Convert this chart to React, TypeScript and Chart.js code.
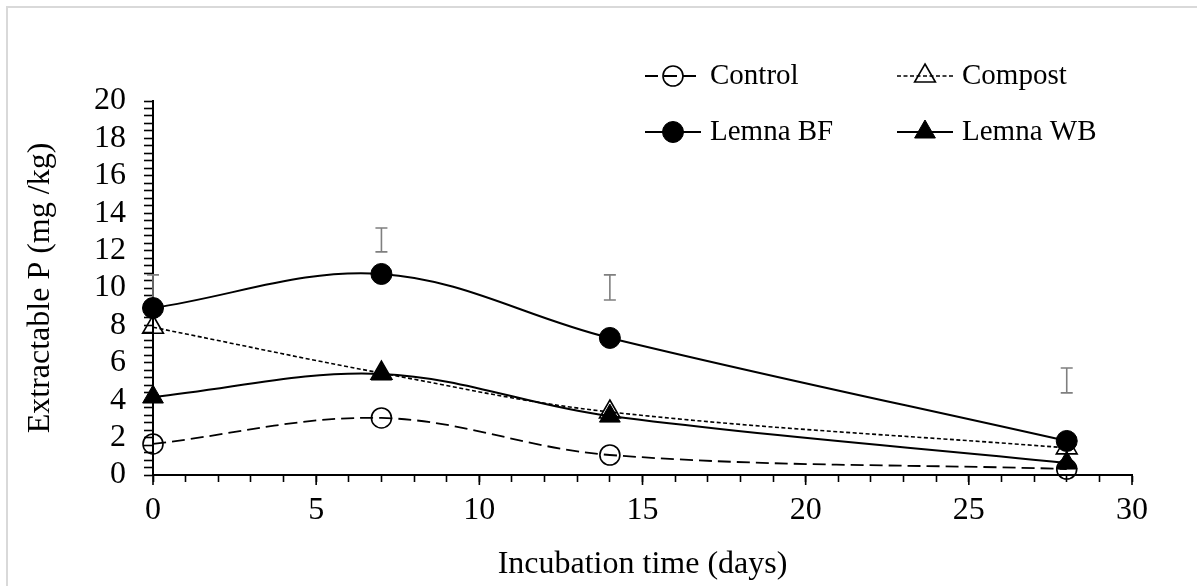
import { useEffect, useRef } from "react";
import { Chart, registerables } from "chart.js";

Chart.register(...registerables);

// Sampling days and extractable P (mg/kg) per treatment
const days = [0, 7, 14, 28];
const control = [1.66, 3.05, 1.07, 0.32];
const compost = [7.9, 5.45, 3.37, 1.45];
const lemnaBF = [8.93, 10.75, 7.33, 1.82];
const lemnaWB = [4.17, 5.4, 3.15, 0.64];

// Error bar extents (mg/kg) drawn at each sampling day
const errLow = [9.4, 11.93, 9.36, 4.39];
const errHigh = [10.7, 13.21, 10.7, 5.72];

const seriesNames = ["Control", "Compost", "Lemna BF", "Lemna WB"];
const yTickLabels = ["0", "2", "4", "6", "8", "10", "12", "14", "16", "18", "20"];
const xTickLabels = ["0", "5", "10", "15", "20", "25", "30"];

const FONT = "'Liberation Serif', 'Times New Roman', serif";
const TICK_SIZE = 32;
const KEY_SIZE = 29;

const pts = (ys: number[]) => days.map((d, i) => ({ x: d, y: ys[i] }));

function drawMarker(
  ctx: CanvasRenderingContext2D,
  style: string,
  x: number,
  y: number,
  r: number,
  fill: string,
  stroke: string,
  width: number
) {
  ctx.beginPath();
  if (style === "triangle") {
    let a = 0;
    ctx.moveTo(x + Math.sin(a) * r, y - Math.cos(a) * r);
    a += (2 * Math.PI) / 3;
    ctx.lineTo(x + Math.sin(a) * r, y - Math.cos(a) * r);
    a += (2 * Math.PI) / 3;
    ctx.lineTo(x + Math.sin(a) * r, y - Math.cos(a) * r);
    ctx.closePath();
  } else {
    ctx.arc(x, y, r, 0, Math.PI * 2);
  }
  ctx.fillStyle = fill;
  ctx.fill();
  ctx.lineWidth = width;
  ctx.strokeStyle = stroke;
  ctx.stroke();
}

// Light frame around the chart
const framePlugin = {
  id: "frame",
  beforeDraw(chart: any) {
    const { ctx, width, height } = chart;
    ctx.save();
    ctx.fillStyle = "#ffffff";
    ctx.fillRect(0, 0, width, height);
    ctx.strokeStyle = "#d9d9d9";
    ctx.lineWidth = 2;
    ctx.beginPath();
    ctx.moveTo(7, height);
    ctx.lineTo(7, 7);
    ctx.lineTo(width, 7);
    ctx.stroke();
    ctx.restore();
  },
};

// Vertical error bars with caps
const errorBarPlugin = {
  id: "errorBars",
  beforeDatasetsDraw(chart: any) {
    const { ctx, scales } = chart;
    const xs = scales.x;
    const ys = scales.y;
    ctx.save();
    ctx.strokeStyle = "#7f7f7f";
    ctx.lineWidth = 1.6;
    days.forEach((d, i) => {
      const x = xs.getPixelForValue(d);
      const y1 = ys.getPixelForValue(errLow[i]);
      const y2 = ys.getPixelForValue(errHigh[i]);
      ctx.beginPath();
      ctx.moveTo(x, y1);
      ctx.lineTo(x, y2);
      ctx.moveTo(x - 6, y1);
      ctx.lineTo(x + 6, y1);
      ctx.moveTo(x - 6, y2);
      ctx.lineTo(x + 6, y2);
      ctx.stroke();
    });
    ctx.restore();
  },
};

// Longer marks at the labelled days on the x axis
const majorTickPlugin = {
  id: "majorTicks",
  afterDraw(chart: any) {
    const { ctx, scales, chartArea } = chart;
    const xs = scales.x;
    ctx.save();
    ctx.strokeStyle = "#000";
    ctx.lineWidth = 1.6;
    xTickLabels.forEach((t) => {
      const x = xs.getPixelForValue(Number(t));
      ctx.beginPath();
      ctx.moveTo(x, chartArea.bottom);
      ctx.lineTo(x, chartArea.bottom + 10);
      ctx.stroke();
    });
    ctx.restore();
  },
};

// Two-column key: marker centred on a short line sample, name to its right
const keyMarkerX = [673, 925];
const keyRows = [76, 132];
const keyPlugin = {
  id: "seriesKey",
  afterDraw(chart: any) {
    const { ctx } = chart;
    ctx.save();
    chart.data.datasets.forEach((ds: any, i: number) => {
      const mx = keyMarkerX[i % 2];
      const y = keyRows[Math.floor(i / 2)];
      ctx.strokeStyle = ds.borderColor;
      ctx.lineWidth = ds.borderWidth;
      ctx.setLineDash(ds.borderDash || []);
      ctx.beginPath();
      ctx.moveTo(mx - 28, y);
      ctx.lineTo(mx + 28, y);
      ctx.stroke();
      ctx.setLineDash([]);
      drawMarker(
        ctx,
        ds.pointStyle,
        mx,
        y,
        ds.pointRadius,
        ds.pointBackgroundColor,
        ds.pointBorderColor,
        ds.pointBorderWidth
      );
      ctx.fillStyle = "#000";
      ctx.font = `${KEY_SIZE}px ${FONT}`;
      ctx.textBaseline = "middle";
      ctx.textAlign = "left";
      ctx.fillText(ds.label, mx + 37, y);
    });
    ctx.restore();
  },
};

const isMultiple = (v: number, step: number) => Math.abs(v / step - Math.round(v / step)) < 1e-6;

export default function App() {
  const canvasRef = useRef<HTMLCanvasElement | null>(null);

  useEffect(() => {
    if (!canvasRef.current) return;
    const common = {
      showLine: true,
      tension: 0.36,
      clip: false as any,
      pointHoverRadius: 0,
    };
    const chart = new Chart(canvasRef.current, {
      type: "scatter",
      data: {
        datasets: [
          {
            ...common,
            label: seriesNames[0],
            data: pts(control),
            borderColor: "#000",
            borderWidth: 1.8,
            borderDash: [13, 6],
            pointStyle: "circle",
            pointRadius: 10,
            pointBackgroundColor: "rgba(0,0,0,0)",
            pointBorderColor: "#000",
            pointBorderWidth: 1.6,
          },
          {
            ...common,
            label: seriesNames[1],
            data: pts(compost),
            borderColor: "#000",
            borderWidth: 1.6,
            borderDash: [4, 2.5],
            pointStyle: "triangle",
            pointRadius: 12,
            pointBackgroundColor: "rgba(0,0,0,0)",
            pointBorderColor: "#000",
            pointBorderWidth: 1.6,
          },
          {
            ...common,
            label: seriesNames[2],
            data: pts(lemnaBF),
            borderColor: "#000",
            borderWidth: 2,
            pointStyle: "circle",
            pointRadius: 10.5,
            pointBackgroundColor: "#000",
            pointBorderColor: "#000",
            pointBorderWidth: 1,
          },
          {
            ...common,
            label: seriesNames[3],
            data: pts(lemnaWB),
            borderColor: "#000",
            borderWidth: 2,
            pointStyle: "triangle",
            pointRadius: 12,
            pointBackgroundColor: "#000",
            pointBorderColor: "#000",
            pointBorderWidth: 1,
          },
        ] as any,
      },
      options: {
        animation: false,
        responsive: false,
        maintainAspectRatio: false,
        events: [],
        layout: { padding: { top: 101, right: 65, left: 0, bottom: 0 } },
        plugins: {
          legend: { display: false },
          tooltip: { enabled: false },
        },
        scales: {
          x: {
            type: "linear",
            min: 0,
            max: 30,
            afterFit: (s: any) => {
              s.height = 111;
            },
            ticks: {
              stepSize: 1,
              autoSkip: false,
              maxRotation: 0,
              padding: 9,
              color: "#000",
              font: { family: FONT, size: TICK_SIZE },
              callback: (v: any) => {
                const s = String(Math.round(Number(v)));
                return isMultiple(Number(v), 5) && xTickLabels.includes(s) ? s : "";
              },
            },
            grid: {
              drawOnChartArea: false,
              drawTicks: true,
              tickLength: 7,
              tickColor: "#000",
              tickWidth: 1.6,
            },
            border: { display: true, color: "#000", width: 2 },
            title: {
              display: true,
              text: "Incubation time (days)",
              color: "#000",
              font: { family: FONT, size: TICK_SIZE, lineHeight: 1.2 },
              padding: { top: 0, bottom: 2 },
            },
          },
          y: {
            type: "linear",
            min: 0,
            max: 20,
            afterFit: (s: any) => {
              s.width = 153;
            },
            ticks: {
              stepSize: 0.4,
              autoSkip: false,
              padding: 18,
              color: "#000",
              font: { family: FONT, size: TICK_SIZE },
              callback: (v: any) => {
                const s = String(Math.round(Number(v)));
                return isMultiple(Number(v), 2) && yTickLabels.includes(s) ? s : "";
              },
            },
            grid: {
              drawOnChartArea: false,
              drawTicks: true,
              tickLength: 9,
              tickColor: "#000",
              tickWidth: 1.6,
            },
            border: { display: true, color: "#000", width: 2 },
            title: {
              display: true,
              text: "Extractable P (mg /kg)",
              color: "#000",
              font: { family: FONT, size: TICK_SIZE, lineHeight: 1.2 },
              padding: { top: 21, bottom: 0 },
            },
          },
        },
      },
      plugins: [framePlugin, errorBarPlugin, majorTickPlugin, keyPlugin],
    });
    return () => chart.destroy();
  }, []);

  return (
    <div style={{ position: "absolute", left: 0, top: 0, width: 1197, height: 586 }}>
      <canvas ref={canvasRef} width={1197} height={586} style={{ width: 1197, height: 586 }} />
    </div>
  );
}
